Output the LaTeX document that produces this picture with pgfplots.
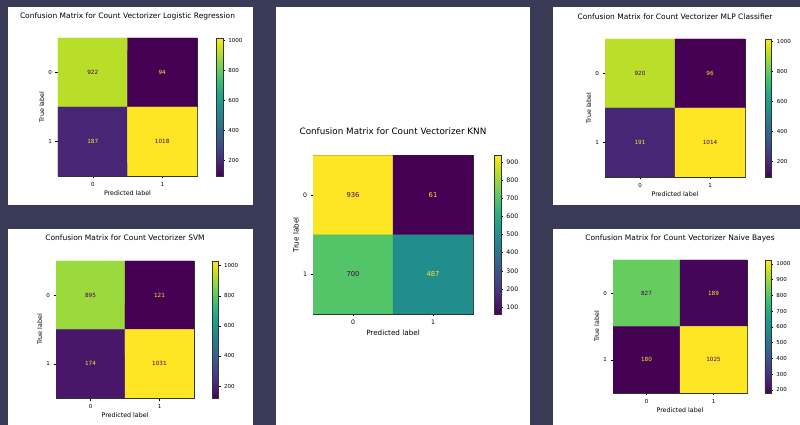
\documentclass[border=0pt]{standalone}
\usepackage{fontspec}
\setmainfont{DejaVu Sans}
\usepackage{pgfplots}
\pgfplotsset{compat=1.18}
\pgfkeys{/pgf/number format/1000 sep={}, /pgf/number format/assume math mode=true}

\definecolor{bgdark}{HTML}{3A3B57}
\definecolor{vdark}{HTML}{440154}
\definecolor{vyell}{HTML}{FDE725}
\newcommand\fs[1]{\fontsize{#1}{#1}\selectfont}

\pgfplotsset{
  cmbase/.style={
    scale only axis, enlargelimits=false,
    xmin=-0.5, xmax=1.5, ymin=-0.5, ymax=1.5, y dir=reverse,
    xtick={0,1}, ytick={0,1},
    xtick pos=left, ytick pos=left,
    tick align=outside, major tick length=2.5pt,
    tick style={black, line width=0.4pt},
    axis line style={line width=0.5pt, black!80},
    xlabel={Predicted label}, ylabel={True label},
    xlabel style={yshift=2pt},
    ylabel style={yshift=-2.5pt},
    colormap/viridis,
    colorbar,
    /pgf/number format/1000 sep={},
    /pgf/number format/assume math mode=true,
  },
  smallfonts/.style={
    title style={font=\fs{7.5}, at={(0.5,1)}, anchor=base, yshift=#1},
    tick label style={font=\fs{5.5}},
    label style={font=\fs{6.3}},
    every node near coord/.append style={font=\fs{5.7}},
  },
  bigfonts/.style={
    title style={font=\fs{8.8}, at={(0.5,1)}, anchor=base, yshift=#1},
    tick label style={font=\fs{6.2}},
    label style={font=\fs{7.2}},
    every node near coord/.append style={font=\fs{6.8}},
  },
  cbar/.style n args={4}{
    colorbar style={
      at={(parent axis.north east)}, anchor=north west,
      xshift=#1, width=#2, ytick={#3},
      yticklabel style={font=\fs{#4}},
      /pgf/number format/1000 sep={},
      /pgf/number format/assume math mode=true,
      tick align=outside, ytick pos=right, major tick length=2pt,
      tick style={black, line width=0.4pt},
      axis line style={line width=0.4pt, black!80},
    },
  },
  cell/.style={matrix plot*, mesh/cols=2, point meta=explicit},
  lbl/.style={draw=none, mark=none, point meta=explicit, nodes near coords,
    every node near coord/.append style={anchor=center, text=#1}},
}

\begin{document}
\begin{tikzpicture}
% page and panels
\fill[bgdark] (0pt,0pt) rectangle (800pt,425pt);
\fill[white] (8pt,418pt) rectangle (253pt,220pt);
\fill[white] (276pt,418pt) rectangle (530pt,0pt);
\fill[white] (553pt,418pt) rectangle (800pt,220pt);
\fill[white] (8pt,196pt) rectangle (253pt,0pt);
\fill[white] (553pt,196pt) rectangle (800pt,0pt);
\path[use as bounding box] (0pt,0pt) rectangle (800pt,425pt);

% Logistic Regression
\begin{axis}[cmbase, smallfonts=13.3pt,
  at={(58pt,387pt)}, anchor=north west, width=139pt, height=138pt,
  title={Confusion Matrix for Count Vectorizer Logistic Regression},
  cbar={11pt}{6.3pt}{200,400,...,1000}{5.5}]
\addplot[cell] table[meta=c]{
x y c
0 0 922
1 0 94
0 1 187
1 1 1018
};
\addplot[lbl=vdark] table[meta=c]{
x y c
0 0 922
1 1 1018
};
\addplot[lbl=vyell] table[meta=c]{
x y c
1 0 94
0 1 187
};
\end{axis}

% KNN
\begin{axis}[cmbase, bigfonts=15.5pt,
  at={(313pt,269.3pt)}, anchor=north west, width=160pt, height=158.3pt,
  title={Confusion Matrix for Count Vectorizer KNN},
  cbar={12.7pt}{6.6pt}{100,200,...,900}{6.2}]
\addplot[cell] table[meta=c]{
x y c
0 0 936
1 0 61
0 1 700
1 1 487
};
\addplot[lbl=vdark] table[meta=c]{
x y c
0 0 936
0 1 700
};
\addplot[lbl=vyell] table[meta=c]{
x y c
1 0 61
1 1 487
};
\end{axis}

% MLP Classifier
\begin{axis}[cmbase, smallfonts=13.3pt,
  at={(605pt,386pt)}, anchor=north west, width=140pt, height=138pt,
  title={Confusion Matrix for Count Vectorizer MLP Classifier},
  cbar={11.7pt}{6pt}{200,400,...,1000}{5.5}]
\addplot[cell] table[meta=c]{
x y c
0 0 920
1 0 96
0 1 191
1 1 1014
};
\addplot[lbl=vdark] table[meta=c]{
x y c
0 0 920
1 1 1014
};
\addplot[lbl=vyell] table[meta=c]{
x y c
1 0 96
0 1 191
};
\end{axis}

% SVM
\begin{axis}[cmbase, smallfonts=14.3pt,
  at={(56pt,164pt)}, anchor=north west, width=138pt, height=137pt,
  title={Confusion Matrix for Count Vectorizer SVM},
  cbar={10pt}{6pt}{200,400,...,1000}{5.5}]
\addplot[cell] table[meta=c]{
x y c
0 0 895
1 0 121
0 1 174
1 1 1031
};
\addplot[lbl=vdark] table[meta=c]{
x y c
0 0 895
1 1 1031
};
\addplot[lbl=vyell] table[meta=c]{
x y c
1 0 121
0 1 174
};
\end{axis}

% Naive Bayes
\begin{axis}[cmbase, smallfonts=13.3pt,
  at={(613pt,165pt)}, anchor=north west, width=134pt, height=133pt,
  title={Confusion Matrix for Count Vectorizer Naive Bayes},
  cbar={9.4pt}{6pt}{200,300,...,1000}{5.5}]
\addplot[cell] table[meta=c]{
x y c
0 0 827
1 0 189
0 1 180
1 1 1025
};
\addplot[lbl=vdark] table[meta=c]{
x y c
0 0 827
1 1 1025
};
\addplot[lbl=vyell] table[meta=c]{
x y c
1 0 189
0 1 180
};
\end{axis}
\end{tikzpicture}
\end{document}
